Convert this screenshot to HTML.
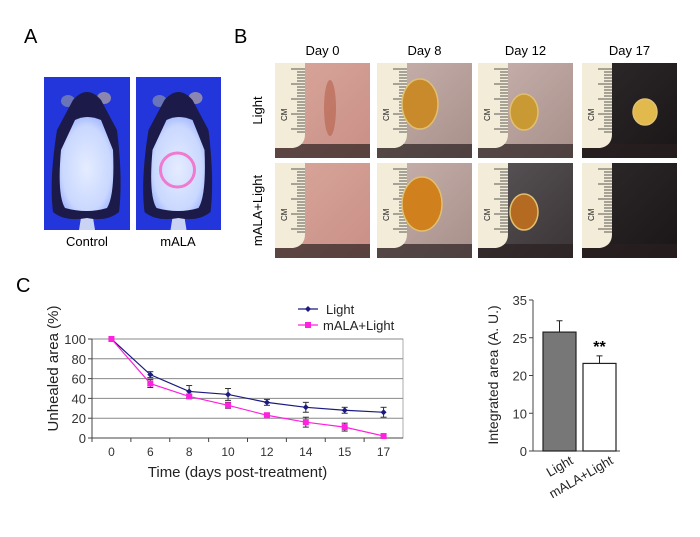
<!DOCTYPE html>
<html><head><meta charset="utf-8">
<style>
html,body{margin:0;padding:0;background:#fff;}
body{width:700px;height:532px;overflow:hidden;font-family:"Liberation Sans",Arial,sans-serif;}
svg text{font-family:"Liberation Sans",Arial,sans-serif;}
</style></head>
<body>
<svg id="fig" width="700" height="532" viewBox="0 0 700 532" xmlns="http://www.w3.org/2000/svg">
<defs>
  <radialGradient id="mouseBody" cx="50%" cy="55%" r="60%">
    <stop offset="0" stop-color="#e4ecff"/><stop offset="0.75" stop-color="#cad8ff"/><stop offset="1" stop-color="#9fb4ff"/>
  </radialGradient>
  <linearGradient id="skin0" x1="0" y1="0" x2="1" y2="1"><stop offset="0" stop-color="#d9a79c"/><stop offset="1" stop-color="#c98f86"/></linearGradient>
  <linearGradient id="skin8" x1="0" y1="0" x2="1" y2="1"><stop offset="0" stop-color="#c9b2ad"/><stop offset="1" stop-color="#a78f8a"/></linearGradient>
  <linearGradient id="skin12b" x1="0" y1="0" x2="1" y2="1"><stop offset="0" stop-color="#5a5558"/><stop offset="1" stop-color="#3a3436"/></linearGradient>
  <linearGradient id="skin17" x1="0" y1="0" x2="1" y2="1"><stop offset="0" stop-color="#2e2a2b"/><stop offset="1" stop-color="#1a1617"/></linearGradient>
</defs>

<text x="24" y="43" font-size="20">A</text>
<text x="234" y="43" font-size="20">B</text>
<text x="16" y="292" font-size="20">C</text>

<g id="panelA"></g>
<text x="87" y="246" font-size="13" text-anchor="middle">Control</text>
<text x="178" y="246" font-size="13" text-anchor="middle">mALA</text>

<g id="panelB"></g>
<g id="lineChart"></g>
<g id="barChart"></g>
</svg>

<script>
// ---------- Line chart data ----------
const days = ["0","6","8","10","12","14","15","17"];
const lightVals = [100,64,47,44,36,31,28,26];
const lightErr = [0,3,6,6,3,5,3,5];
const malaVals = [100,55,42,33,23,16,11,2];
const malaErr = [0,4,2,3,2,5,4,1];
const yTicks = [0,20,40,60,80,100];

// ---------- Bar chart data ----------
const barCats = ["Light","mALA+Light"];
const barTickLabels = ["0","10","20","25","35"];
const barVals = [3.15,2.32];
const barErr = [0.3,0.2];

const NS="http://www.w3.org/2000/svg";
function mk(tag,attrs,parent){const e=document.createElementNS(NS,tag);for(const k in attrs)e.setAttribute(k,attrs[k]);parent.appendChild(e);return e;}

// ---------- Panel A ----------
(function(){
  const g=document.getElementById('panelA');
  [[44,86,'mouse-photo-control',false],[136,85,'mouse-photo-mala',true]].forEach(([x0,w,name,ring])=>{
    const p=mk('g',{},g);
    
    
    mk('rect',{x:x0,y:77,width:w,height:153,fill:'#2236dc'},p);
    const c=x0+w/2;
    mk('path',{d:`M${c-8},230 L${c-4},205 L${c+4},205 L${c+8},230 Z`,fill:'#c9d4f4'},p);
    mk('ellipse',{cx:c-19,cy:101,rx:7,ry:6,fill:'#6a74b8'},p);
    mk('ellipse',{cx:c+17,cy:98,rx:7,ry:6,fill:'#8a86b0'},p);
    mk('path',{d:`M${c-14},100 Q${c},84 ${c+14},100 L${c+30},130 Q${c+36},180 ${c+32},212 Q${c+20},222 ${c},218 Q${c-22},222 ${c-34},212 Q${c-38},180 ${c-30},130 Z`,fill:'#1b1a48'},p);
    mk('path',{d:`M${c-12},120 Q${c},114 ${c+14},120 L${c+26},150 Q${c+28},195 ${c+20},208 Q${c},214 ${c-22},208 Q${c-30},195 ${c-26},150 Z`,fill:'url(#mouseBody)'},p);
    if(ring) mk('ellipse',{cx:c-1,cy:170,rx:17,ry:17,fill:'none',stroke:'#f07ad0','stroke-width':3},p);
  });
})();

// ---------- Panel B ----------
(function(){
  const g=document.getElementById('panelB');
  const colX=[275,377,478,582], rowY=[63,163], W=95, H=95;
  const dayLabels=["Day 0","Day 8","Day 12","Day 17"];
  const fills=[["url(#skin0)","url(#skin0)"],["url(#skin8)","url(#skin8)"],["url(#skin8)","url(#skin12b)"],["url(#skin17)","url(#skin17)"]];
  const wounds=[[null,null],[[420,104,18,25,"#c88a2a"],[422,204,20,27,"#d0801c"]],[[524,112,14,18,"#c99a34"],[524,212,14,18,"#b56a22"]],[[645,112,12,13,"#e2b94c"],null]];
  dayLabels.forEach((d,i)=>{
    const t=mk('text',{x:colX[i]+W/2,y:55,'font-size':13,'text-anchor':'middle'},g);
    t.textContent=d;
    
    
  });
  ["Light","mALA+Light"].forEach((r,j)=>{
    const cy=rowY[j]+H/2;
    const t=mk('text',{x:262,y:cy,'font-size':13,'text-anchor':'middle',transform:`rotate(-90 262 ${cy})`},g);
    t.textContent=r;
    
    
  });
  for(let i=0;i<4;i++)for(let j=0;j<2;j++){
    const x=colX[i],y=rowY[j];
    const p=mk('g',{},g);
    
    
    mk('rect',{x:x,y:y,width:W,height:H,fill:fills[i][j]},p);
    mk('rect',{x:x,y:y+H-14,width:W,height:14,fill:'#2a2020',opacity:0.7},p);
    if(i===0&&j===0) mk('ellipse',{cx:x+55,cy:y+45,rx:6,ry:28,fill:'#b8604a',opacity:0.6},p);
    mk('path',{d:`M${x},${y} L${x+30},${y} L${x+30},${y+H-24} Q${x+30},${y+H-12} ${x+18},${y+H-10} L${x},${y+H-10} Z`,fill:'#f2ecd8'},p);
    for(let k=0;k<22;k++){const ty=y+6+k*3;const len=k%5===0?14:8;mk('line',{x1:x+30-len,y1:ty,x2:x+30,y2:ty,stroke:'#333','stroke-width':0.8},p);}
    const c=mk('text',{x:x+12,y:y+58,'font-size':8,transform:`rotate(-90 ${x+12} ${y+58})`,fill:'#222'},p);c.textContent='CM';
    const w=wounds[i][j];
    if(w){mk('ellipse',{cx:w[0],cy:w[1],rx:w[2],ry:w[3],fill:w[4],stroke:'#e0c070','stroke-width':1.5},p);}
  }
})();

// ---------- Line chart ----------
(function(){
  const g=document.getElementById('lineChart');
  const L=92,R=403,T=339,B=438;
  const step=(R-L)/days.length;
  const xs=i=>L+step*(i+0.5);
  const ys=v=>B-(v/100)*(B-T);
  const plot=mk('rect',{x:L,y:T,width:R-L,height:B-T,fill:'#fff',stroke:'#999','stroke-width':0.8},g);
  
  
  yTicks.forEach(v=>{
    const gl=mk('line',{x1:L,y1:ys(v),x2:R,y2:ys(v),stroke:'#888','stroke-width':1},g);
    
    
    mk('line',{x1:L-4,y1:ys(v),x2:L,y2:ys(v),stroke:'#444'},g);
    const t=mk('text',{x:L-6,y:ys(v)+5,'font-size':13,'text-anchor':'end',fill:'#333'},g);
    t.textContent=v;
    
    
  });
  mk('line',{x1:L,y1:B,x2:R,y2:B,stroke:'#444'},g);
  mk('line',{x1:L,y1:T,x2:L,y2:B,stroke:'#444'},g);
  days.forEach((d,i)=>{
    mk('line',{x1:L+step*i,y1:B,x2:L+step*i,y2:B+4,stroke:'#444'},g);
    const t=mk('text',{x:xs(i),y:B+18,'font-size':12,'text-anchor':'middle',fill:'#333'},g);
    t.textContent=d;
    
    
  });
  const xt=mk('text',{x:(L+R)/2-10,y:477,'font-size':15,'text-anchor':'middle',fill:'#222'},g);
  xt.textContent='Time (days post-treatment)';
  
  
  const yt=mk('text',{x:58,y:(T+B)/2-20,'font-size':15,'text-anchor':'middle',fill:'#222',transform:`rotate(-90 58 ${(T+B)/2-20})`},g);
  yt.textContent='Unhealed area (%)';
  
  
  function series(vals,errs,color,marker,name){
    const sg=mk('g',{},g);
    
    
    vals.forEach((v,i)=>{if(errs[i]>0){const x=xs(i);mk('line',{x1:x,y1:ys(v+errs[i]),x2:x,y2:ys(v-errs[i]),stroke:'#333'},sg);mk('line',{x1:x-3,y1:ys(v+errs[i]),x2:x+3,y2:ys(v+errs[i]),stroke:'#333'},sg);mk('line',{x1:x-3,y1:ys(v-errs[i]),x2:x+3,y2:ys(v-errs[i]),stroke:'#333'},sg);}});
    mk('polyline',{points:vals.map((v,i)=>xs(i)+','+ys(v)).join(' '),fill:'none',stroke:color,'stroke-width':1.2},sg);
    vals.forEach((v,i)=>{
      let m;
      if(marker==='d') m=mk('path',{d:`M${xs(i)},${ys(v)-3} l3,3 l-3,3 l-3,-3 z`,fill:color},sg);
      else m=mk('rect',{x:xs(i)-3,y:ys(v)-3,width:6,height:6,fill:color},sg);
      
      
    });
  }
  series(lightVals,lightErr,'#1a1a80','d','series-light');
  series(malaVals,malaErr,'#ff20e0','s','series-mala-light');
  const lg=mk('g',{},g);
  
  
  mk('line',{x1:298,y1:309,x2:318,y2:309,stroke:'#1a1a80','stroke-width':1.2},lg);
  mk('path',{d:'M308,306 l3,3 l-3,3 l-3,-3 z',fill:'#1a1a80'},lg);
  const l1=mk('text',{x:326,y:314,'font-size':13,fill:'#222'},lg);l1.textContent='Light';
  mk('line',{x1:298,y1:325,x2:318,y2:325,stroke:'#ff20e0','stroke-width':1.2},lg);
  mk('rect',{x:305,y:322,width:6,height:6,fill:'#ff20e0'},lg);
  const l2=mk('text',{x:323,y:330,'font-size':13,fill:'#222'},lg);l2.textContent='mALA+Light';
})();

// ---------- Bar chart ----------
(function(){
  const g=document.getElementById('barChart');
  const L=533,R=620,B=451,stepY=37.75;
  const ys=v=>B-v*stepY;
  mk('line',{x1:L,y1:ys(4),x2:L,y2:B,stroke:'#444'},g);
  mk('line',{x1:L,y1:B,x2:R,y2:B,stroke:'#444'},g);
  barTickLabels.forEach((lab,i)=>{
    mk('line',{x1:L-4,y1:ys(i),x2:L,y2:ys(i),stroke:'#444'},g);
    const t=mk('text',{x:L-6,y:ys(i)+5,'font-size':13,'text-anchor':'end',fill:'#333'},g);
    t.textContent=lab;
    
    
  });
  const yt=mk('text',{x:498,y:375,'font-size':14,'text-anchor':'middle',fill:'#222',transform:'rotate(-90 498 375)'},g);
  yt.textContent='Integrated area (A. U.)';
  
  
  const bx=[543,583],bw=33,fills=['#777','#fff'];
  barCats.forEach((c,i)=>{
    const x=bx[i],top=ys(barVals[i]);
    const r=mk('rect',{x:x,y:top,width:bw,height:B-top,fill:fills[i],stroke:'#222','stroke-width':1.2},g);
    
    
    const cx=x+bw/2,et=ys(barVals[i]+barErr[i]);
    mk('line',{x1:cx,y1:top,x2:cx,y2:et,stroke:'#222'},g);
    mk('line',{x1:cx-3,y1:et,x2:cx+3,y2:et,stroke:'#222'},g);
    const t=mk('text',{x:x+bw-2,y:B+12,'font-size':13,'text-anchor':'end',fill:'#222',transform:`rotate(-30 ${x+bw-2} ${B+12})`},g);
    t.textContent=c;
    
    
  });
  const s=mk('text',{x:bx[1]+bw/2,y:ys(barVals[1]+barErr[1])-4,'font-size':16,'font-weight':'bold','text-anchor':'middle'},g);
  s.textContent='**';
  
  
})();
</script>
</body></html>
